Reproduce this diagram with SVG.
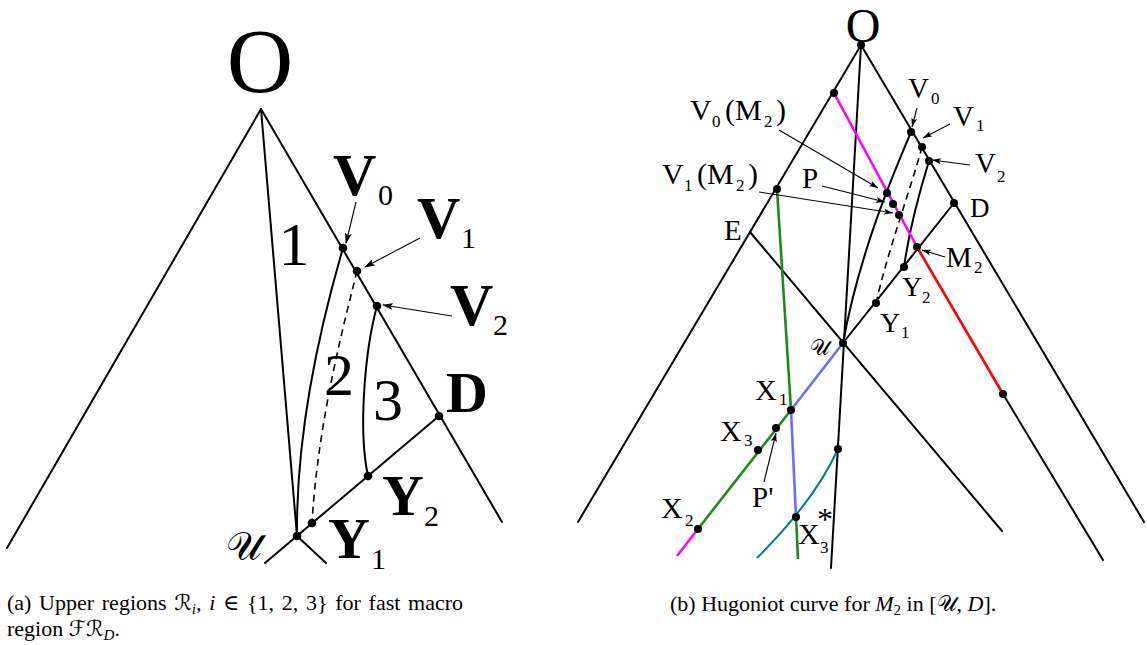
<svg xmlns="http://www.w3.org/2000/svg" width="1147" height="645" viewBox="0 0 1147 645">
<defs>
<marker id="ah" markerWidth="11" markerHeight="8" refX="10" refY="4" orient="auto" markerUnits="userSpaceOnUse"><path d="M0,0.5 L11,4 L0,7.5 L2.5,4 z" fill="#000"/></marker>
<marker id="ahs" markerWidth="9" markerHeight="7" refX="9" refY="3.5" orient="auto" markerUnits="userSpaceOnUse"><path d="M0,0.5 L9,3.5 L0,6.5 L2,3.5 z" fill="#000"/></marker>
</defs>
<style>
.ln{stroke:#000;stroke-width:2;fill:none;stroke-linecap:round}
.dash{stroke:#000;stroke-width:1.6;fill:none;stroke-dasharray:7,5}
.ar{stroke:#000;stroke-width:1.1;fill:none;marker-end:url(#ah)}
.ars{stroke:#000;stroke-width:1.1;fill:none;marker-end:url(#ahs)}
.mag{stroke:#ff00ff;stroke-width:2.6;fill:none}
.red{stroke:#ff0000;stroke-width:2.6;fill:none}
.grn{stroke:#1a8c1a;stroke-width:2.6;fill:none}
.blu{stroke:#6b6bff;stroke-width:2.6;fill:none}
.teal{stroke:#008080;stroke-width:2;fill:none}
.t{font-family:"Liberation Serif","DejaVu Serif",serif;fill:#000}
.b{font-weight:bold}
.sc{font-family:"DejaVu Serif","DejaVu Sans","Liberation Serif",serif}
</style>

<!-- ============ LEFT DIAGRAM (a) ============ -->
<g id="left-connectors">
<line class="ln" x1="261" y1="109" x2="7" y2="548"/>
<line class="ln" x1="261" y1="109" x2="502" y2="522"/>
<line class="ln" x1="261" y1="109" x2="297" y2="536"/>
<path class="ln" d="M343,248 C322,320 296,430 297,536"/>
<path class="dash" d="M357,271 C345,320 318,420 312,523"/>
<path class="ln" d="M377,306 C365,350 358,430 368,476"/>
<line class="ln" x1="439" y1="416" x2="265" y2="563"/>
<line class="ln" x1="297" y1="536" x2="326" y2="563"/>
<line class="ar" x1="356" y1="202" x2="346" y2="243"/>
<line class="ar" x1="420" y1="238" x2="365" y2="267"/>
<line class="ar" x1="452" y1="316" x2="383" y2="305"/>
</g>
<g id="a-O"><text class="t" x="260" y="92" font-size="92" text-anchor="middle">O</text></g>
<g id="a-V0"><circle cx="343" cy="248" r="4.3"/><text class="t b" x="333" y="195" font-size="60">V</text><text class="t" x="378" y="205" font-size="30">0</text></g>
<g id="a-V1"><circle cx="357" cy="271" r="4.3"/><text class="t b" x="417" y="238" font-size="60">V</text><text class="t" x="461" y="248" font-size="30">1</text></g>
<g id="a-V2"><circle cx="377" cy="306" r="4.3"/><text class="t b" x="450" y="325" font-size="60">V</text><text class="t" x="493" y="335" font-size="30">2</text></g>
<g id="a-D"><circle cx="439" cy="416" r="4.3"/><text class="t b" x="446" y="412" font-size="58">D</text></g>
<g id="a-Y2"><circle cx="368" cy="476" r="4.3"/><text class="t b" x="382" y="515" font-size="58">Y</text><text class="t" x="424" y="526" font-size="30">2</text></g>
<g id="a-Y1"><circle cx="312" cy="523" r="4.3"/><text class="t b" x="328" y="558" font-size="58">Y</text><text class="t" x="371" y="569" font-size="30">1</text></g>
<g id="a-U"><circle cx="297" cy="536" r="4.3"/><text class="sc" x="226" y="560" font-size="40">𝒰</text></g>
<g id="a-R1"><text class="t" x="294" y="265" font-size="62" text-anchor="middle">1</text></g>
<g id="a-R2"><text class="t" x="339" y="395" font-size="60" text-anchor="middle">2</text></g>
<g id="a-R3"><text class="t" x="388" y="420" font-size="60" text-anchor="middle">3</text></g>

<!-- ============ RIGHT DIAGRAM (b) ============ -->
<g id="right-connectors">
<line class="ln" x1="861" y1="45" x2="578" y2="522"/>
<line class="ln" x1="861" y1="45" x2="1144" y2="522"/>
<line class="ln" x1="861" y1="45" x2="831" y2="568"/>
<line class="ln" x1="750" y1="232" x2="1002" y2="531"/>
<path class="ln" d="M911,132 C895,170 860,250 843,343"/>
<path class="dash" d="M922,147 C912,185 888,250 876,303"/>
<path class="ln" d="M929,161 C920,190 910,225 904,267"/>
<line class="ln" x1="954" y1="203" x2="843" y2="343"/>
<line class="blu" x1="843" y1="343" x2="791" y2="410"/>
<line class="grn" x1="791" y1="410" x2="698" y2="529"/>
<line class="mag" x1="698" y1="529" x2="677" y2="556"/>
<line class="mag" x1="834" y1="93" x2="917" y2="247"/>
<line class="red" x1="917" y1="247" x2="1003" y2="394"/>
<line class="ln" x1="1003" y1="394" x2="1103" y2="560"/>
<line class="grn" x1="777" y1="189" x2="791" y2="410"/>
<line class="blu" x1="791" y1="410" x2="796" y2="517"/>
<line class="grn" x1="796" y1="517" x2="798" y2="559"/>
<path class="teal" d="M838,449 Q815,500 757,558"/>
<line class="ars" x1="917" y1="108" x2="912" y2="127"/>
<line class="ars" x1="950" y1="124" x2="923" y2="138"/>
<line class="ars" x1="970" y1="165" x2="932" y2="160"/>
<line class="ars" x1="945" y1="257" x2="922" y2="250"/>
<line class="ars" x1="779" y1="130" x2="878" y2="188"/>
<line class="ars" x1="822" y1="186" x2="885" y2="202"/>
<line class="ars" x1="759" y1="192" x2="893" y2="213"/>
<line class="ars" x1="764" y1="482" x2="776" y2="433"/>
</g>
<g id="b-O"><circle cx="861" cy="45" r="4"/><text class="t" x="863" y="42" font-size="48" text-anchor="middle">O</text></g>
<g id="b-V0"><circle cx="911" cy="132" r="4"/><text class="t" x="908" y="98" font-size="29">V</text><text class="t" x="931" y="104" font-size="17">0</text></g>
<g id="b-V1"><circle cx="922" cy="147" r="4"/><text class="t" x="953" y="126" font-size="29">V</text><text class="t" x="976" y="131" font-size="17">1</text></g>
<g id="b-V2"><circle cx="929" cy="161" r="4"/><text class="t" x="975" y="173" font-size="29">V</text><text class="t" x="997" y="182" font-size="17">2</text></g>
<g id="b-D"><circle cx="954" cy="203" r="4"/><text class="t" x="970" y="217" font-size="27">D</text></g>
<g id="b-M2"><circle cx="917" cy="247" r="4"/><text class="t" x="946" y="267" font-size="29">M</text><text class="t" x="974" y="273" font-size="17">2</text></g>
<g id="b-Y2"><circle cx="904" cy="267" r="4"/><text class="t" x="902" y="296" font-size="28">Y</text><text class="t" x="922" y="303" font-size="17">2</text></g>
<g id="b-Y1"><circle cx="876" cy="303" r="4"/><text class="t" x="880" y="332" font-size="28">Y</text><text class="t" x="901" y="338" font-size="17">1</text></g>
<g id="b-U"><circle cx="843" cy="343" r="4"/><text class="sc" x="810" y="355" font-size="22">𝒰</text></g>
<g id="b-top"><circle cx="834" cy="93" r="4"/></g>
<g id="b-V1M2"><circle cx="777" cy="189" r="4"/><circle cx="899" cy="215" r="4"/><text class="t" x="662" y="184" font-size="30">V</text><text class="t" x="684" y="191" font-size="17">1</text><text class="t" x="697" y="184" font-size="30">(M</text><text class="t" x="736" y="191" font-size="17">2</text><text class="t" x="748" y="184" font-size="30">)</text></g>
<g id="b-V0M2"><circle cx="887" cy="193" r="4"/><text class="t" x="690" y="120" font-size="30">V</text><text class="t" x="712" y="127" font-size="17">0</text><text class="t" x="725" y="120" font-size="30">(M</text><text class="t" x="764" y="127" font-size="17">2</text><text class="t" x="776" y="120" font-size="30">)</text></g>
<g id="b-P"><circle cx="893" cy="204" r="4"/><text class="t" x="802" y="188" font-size="29">P</text></g>
<g id="b-E"><text class="t" x="724" y="240" font-size="29">E</text></g>
<g id="b-X1"><circle cx="791" cy="410" r="4"/><text class="t" x="755" y="400" font-size="30">X</text><text class="t" x="779" y="405" font-size="17">1</text></g>
<g id="b-X3"><circle cx="758" cy="450" r="4"/><text class="t" x="720" y="441" font-size="30">X</text><text class="t" x="744" y="446" font-size="17">3</text></g>
<g id="b-Pp"><circle cx="776" cy="428" r="4"/><text class="t" x="752" y="507" font-size="29">P'</text></g>
<g id="b-X2"><circle cx="698" cy="529" r="4"/><text class="t" x="661" y="518" font-size="30">X</text><text class="t" x="685" y="526" font-size="17">2</text></g>
<g id="b-X3s"><circle cx="796" cy="517" r="4"/><text class="t" x="798" y="544" font-size="30">X</text><text class="t" x="820" y="553" font-size="17">3</text><text class="t" x="817" y="530" font-size="32">*</text></g>
<g id="b-teal"><circle cx="838" cy="449" r="4"/></g>
<g id="b-red"><circle cx="1003" cy="394" r="4"/></g>

<!-- captions -->
<g id="captions">
<text class="t" x="7" y="610" font-size="22" word-spacing="2.2">(a) Upper regions <tspan class="sc">ℛ</tspan><tspan font-style="italic" font-size="15" dy="4">i</tspan><tspan dy="-4">, </tspan><tspan font-style="italic">i</tspan> ∈ {1, 2, 3} for fast macro</text>
<text class="t" x="7" y="636" font-size="22">region <tspan class="sc">ℱℛ</tspan><tspan font-style="italic" font-size="15" dy="4">D</tspan><tspan dy="-4">.</tspan></text>
<text class="t" x="670" y="611" font-size="22">(b) Hugoniot curve for <tspan font-style="italic">M</tspan><tspan font-size="15" dy="4">2</tspan><tspan dy="-4"> in [</tspan><tspan class="sc">𝒰</tspan>, <tspan font-style="italic">D</tspan>].</text>
</g>
</svg>
